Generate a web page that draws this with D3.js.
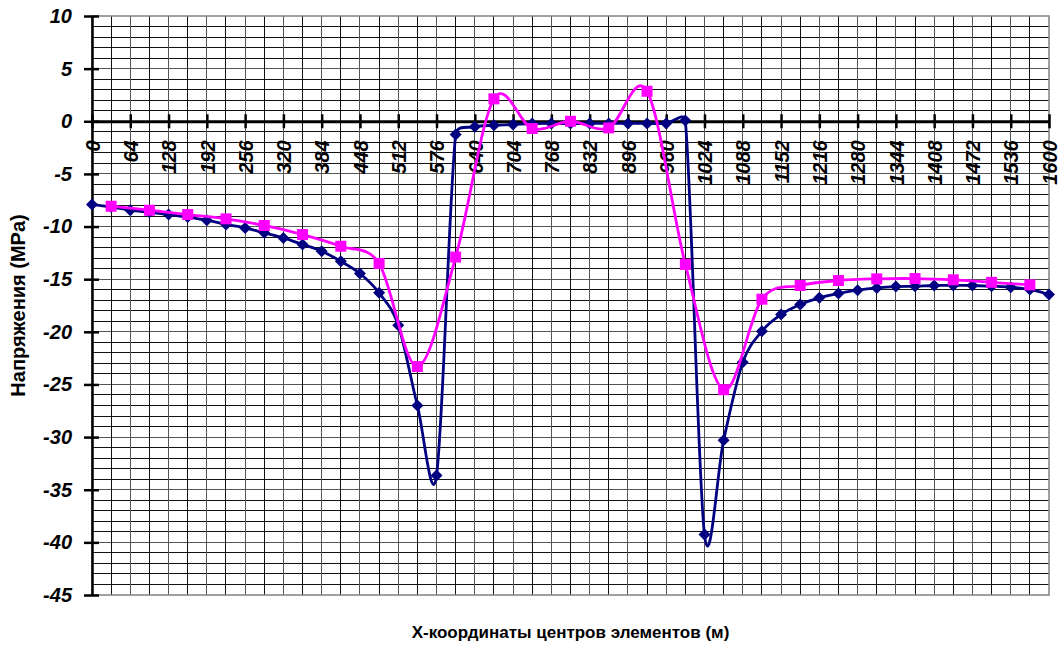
<!DOCTYPE html>
<html>
<head>
<meta charset="utf-8">
<script src="https://cdn.jsdelivr.net/npm/d3@7"></script>
<style>
  body { margin: 0; background: #fff; }
  svg text { font-family: "Liberation Sans", Arial, sans-serif; }
</style>
</head>
<body>
<div class="chart"></div>
<script>
// координаты центров элементов (м)
const xBlue = [0, 32, 64, 96, 128, 160, 192, 224, 256, 288, 320, 352, 384, 416, 448, 480,
  512, 544, 576, 608, 640, 672, 704, 736, 768, 800, 832, 864, 896, 928, 960, 992,
  1024, 1056, 1088, 1120, 1152, 1184, 1216, 1248, 1280, 1312, 1344, 1376, 1408, 1440,
  1472, 1504, 1536, 1568, 1600]
const yBlue = [-7.9, -8.15, -8.45, -8.65, -8.86, -9.1, -9.4, -9.8, -10.13, -10.6, -11.08,
  -11.7, -12.34, -13.3, -14.46, -16.3, -19.37, -27.0, -33.65, -1.26, -0.53, -0.38,
  -0.31, -0.22, -0.2, -0.22, -0.2, -0.2, -0.2, -0.2, -0.2, 0.07, -39.25, -30.3,
  -22.9, -19.94, -18.36, -17.4, -16.77, -16.36, -16.05, -15.83, -15.7, -15.67, -15.6,
  -15.6, -15.6, -15.67, -15.76, -15.98, -16.46]

const xPink = [32, 96, 160, 224, 288, 352, 416, 480, 544, 608, 672, 736, 800, 864, 928,
  992, 1056, 1120, 1184, 1248, 1312, 1376, 1440, 1504, 1568]
const yPink = [-8.07, -8.45, -8.86, -9.27, -9.9, -10.76, -11.87, -13.5, -23.3, -12.9, 2.13,
  -0.69, 0, -0.63, 2.85, -13.6, -25.5, -16.9, -15.6, -15.13, -14.97, -14.94, -15.06,
  -15.3, -15.54]

const xTicks = [0, 64, 128, 192, 256, 320, 384, 448, 512, 576, 640, 704, 768, 832, 896,
  960, 1024, 1088, 1152, 1216, 1280, 1344, 1408, 1472, 1536, 1600]
const yTicks = [10, 5, 0, -5, -10, -15, -20, -25, -30, -35, -40, -45]

const W = 1061, H = 646
const mLeft = 92, mRight = 1049, mTop = 16, mBottom = 595

const svg = d3.select('.chart').append('svg')
  .attr('width', W).attr('height', H)

const x = d3.scaleLinear().domain([0, 1600]).range([mLeft, mRight])
const y = d3.scaleLinear().domain([-45, 10]).range([mBottom, mTop])

// сетка
const grid = svg.append('g').attr('shape-rendering', 'crispEdges')
grid.selectAll('line.h')
  .data(d3.range(-44, 10, 1))
  .join('line')
  .attr('x1', mLeft).attr('x2', mRight)
  .attr('y1', d => y(d)).attr('y2', d => y(d))
  .attr('stroke', d => d % 5 === 0 ? '#555' : '#111')
  .attr('stroke-width', 1)
grid.selectAll('line.v')
  .data(d3.range(32, 1600, 32))
  .join('line')
  .attr('x1', d => x(d)).attr('x2', d => x(d))
  .attr('y1', mTop).attr('y2', mBottom)
  .attr('stroke', d => d % 64 === 0 ? '#555' : '#111')
  .attr('stroke-width', 1)

// рамка
svg.append('rect')
  .attr('x', mLeft).attr('y', mTop)
  .attr('width', mRight - mLeft).attr('height', mBottom - mTop)
  .attr('fill', 'none').attr('stroke', '#808080').attr('stroke-width', 1.5)

// ось Y
const yAxis = d3.axisLeft(y).tickValues(yTicks).tickSize(0).tickPadding(20)
  .tickFormat(d => String(d))
const yG = svg.append('g').attr('transform', `translate(${mLeft},0)`).call(yAxis)
yG.select('.domain').attr('stroke', '#000').attr('stroke-width', 2.5)
yG.selectAll('.tick line').attr('x1', -8).attr('x2', 7)
  .attr('stroke', '#000').attr('stroke-width', 2.5)
yG.selectAll('.tick text')
  .style('font-size', '20px').style('font-weight', 'bold').style('font-style', 'italic')
  .attr('fill', '#000')

// ось X (на нуле)
const xAxis = d3.axisBottom(x).tickValues(xTicks).tickSize(0).tickFormat(d => String(d))
const xG = svg.append('g').attr('transform', `translate(0,${y(0)})`).call(xAxis)
xG.select('.domain').attr('stroke', '#000').attr('stroke-width', 3)
xG.selectAll('.tick line').attr('y1', -7).attr('y2', 7)
  .attr('stroke', '#000').attr('stroke-width', 2.5)
xG.selectAll('.tick text')
  .attr('transform', 'rotate(-90)')
  .attr('x', -19).attr('y', 0).attr('dy', '0.36em')
  .style('text-anchor', 'end')
  .style('font-size', '20px').style('font-weight', 'bold').style('font-style', 'italic')
  .attr('fill', '#000')

// сглаженная линия как в Excel: Безье, плечо не длиннее половины отрезка
function smoothPath(pts) {
  const p = d3.path()
  const dist = (a, b) => Math.hypot(b[0] - a[0], b[1] - a[1])
  p.moveTo(pts[0][0], pts[0][1])
  for (let i = 0; i < pts.length - 1; i++) {
    const p0 = pts[Math.max(i - 1, 0)], p1 = pts[i], p2 = pts[i + 1]
    const p3 = pts[Math.min(i + 2, pts.length - 1)]
    const d12 = dist(p1, p2), d02 = dist(p0, p2), d13 = dist(p1, p3)
    let f1 = 1 / 6, f2 = 1 / 6
    if (d02 / 6 >= d12 / 2 && d02 > 0) f1 = d12 / d02 / 2
    if (d13 / 6 >= d12 / 2 && d13 > 0) f2 = d12 / d13 / 2
    p.bezierCurveTo(
      p1[0] + (p2[0] - p0[0]) * f1, p1[1] + (p2[1] - p0[1]) * f1,
      p2[0] - (p3[0] - p1[0]) * f2, p2[1] - (p3[1] - p1[1]) * f2,
      p2[0], p2[1])
  }
  return p.toString()
}

const blue = xBlue.map((v, i) => [v, yBlue[i]])
const pink = xPink.map((v, i) => [v, yPink[i]])
const toPx = arr => arr.map(d => [x(d[0]), y(d[1])])

svg.append('path').datum(blue)
  .attr('d', d => smoothPath(toPx(d))).attr('fill', 'none')
  .attr('stroke', '#000080').attr('stroke-width', 2.8)

svg.selectAll('path.dia').data(blue).join('path')
  .attr('class', 'dia')
  .attr('transform', d => `translate(${x(d[0])},${y(d[1])})`)
  .attr('d', 'M0,-6L6,0L0,6L-6,0Z')
  .attr('fill', '#000080')

svg.append('path').datum(pink)
  .attr('d', d => smoothPath(toPx(d))).attr('fill', 'none')
  .attr('stroke', '#FF00FF').attr('stroke-width', 2.8)

svg.selectAll('rect.sq').data(pink).join('rect')
  .attr('class', 'sq')
  .attr('x', d => x(d[0]) - 5.5).attr('y', d => y(d[1]) - 5.5)
  .attr('width', 11).attr('height', 11)
  .attr('fill', '#FF00FF')

// подписи осей
svg.append('text')
  .attr('transform', `translate(25,${(mTop + mBottom) / 2}) rotate(-90)`)
  .style('text-anchor', 'middle')
  .style('font-size', '20px').style('font-weight', 'bold')
  .text('Напряжения (MPa)')

svg.append('text')
  .attr('x', (mLeft + mRight) / 2).attr('y', 638)
  .style('text-anchor', 'middle')
  .style('font-size', '17px').style('font-weight', 'bold')
  .text('X-координаты центров элементов (м)')
</script>
</body>
</html>
